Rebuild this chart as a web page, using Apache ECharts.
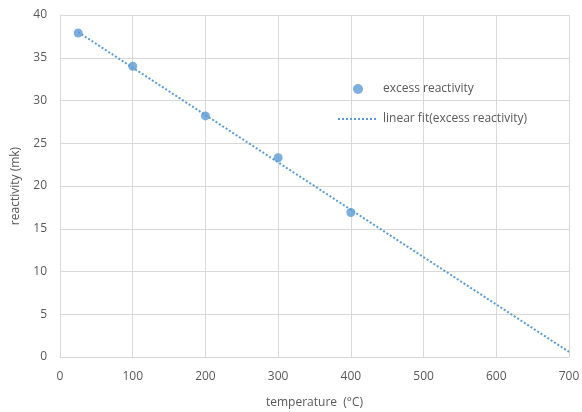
<!DOCTYPE html>
<html>
<head>
<meta charset="utf-8">
<script src="https://cdn.jsdelivr.net/npm/echarts@6/dist/echarts.min.js"></script>
<style>
  html, body { margin: 0; padding: 0; background: #fff; }
  #chart { width: 582px; height: 412px; }
</style>
</head>
<body>
<div id="chart"></div>
<script>
var temperature = [25, 100, 200, 300, 400];
var reactivity = [37.9, 34.0, 28.2, 23.3, 16.9];
// trend line end points
var fitX = [25, 700];
var fitY = [38.0, 0.6];

var textColor = '#595959';
var gridColor = '#d9d9d9';
var blue = '#5b9bd5';
var font = 'Open Sans';

var chart = echarts.init(document.getElementById('chart'));

var option = {
    animation: false,
    grid: {
        left: 60,
        right: 13,
        top: 15,
        bottom: 55,
        outerBoundsMode: 'none'
    },
    legend: {
        orient: 'vertical',
        left: 332,
        top: 78,
        itemWidth: 40,
        itemHeight: 10,
        itemGap: 18,
        textStyle: { color: textColor, fontFamily: font, fontSize: 12 },
        data: [
            { name: 'excess reactivity', icon: 'circle' },
            { name: 'linear fit(excess reactivity)', itemStyle: { opacity: 0 } }
        ]
    },
    xAxis: {
        type: 'value',
        min: 0,
        max: 700,
        interval: 100,
        name: 'temperature  (\u00B0C)',
        nameLocation: 'middle',
        nameGap: 40,
        nameTextStyle: { color: textColor, fontFamily: font, fontSize: 12 },
        axisLine: { show: true, lineStyle: { color: gridColor } },
        axisTick: { show: false },
        axisLabel: { color: textColor, fontFamily: font, fontSize: 12, margin: 14 },
        splitLine: { show: true, lineStyle: { color: gridColor } }
    },
    yAxis: {
        type: 'value',
        min: 0,
        max: 40,
        interval: 5,
        name: 'reactivity (mk)',
        nameLocation: 'middle',
        nameGap: 38,
        nameTextStyle: { color: textColor, fontFamily: font, fontSize: 12 },
        axisLine: { show: true, lineStyle: { color: gridColor } },
        axisTick: { show: false },
        axisLabel: { color: textColor, fontFamily: font, fontSize: 12, margin: 13 },
        splitLine: { show: true, lineStyle: { color: gridColor } }
    },
    series: [
        {
            name: 'excess reactivity',
            type: 'scatter',
            symbol: 'circle',
            symbolSize: 9,
            itemStyle: { color: blue },
            data: temperature.map(function (t, i) { return [t, reactivity[i]]; }),
            z: 3
        },
        {
            name: 'linear fit(excess reactivity)',
            type: 'line',
            symbol: 'none',
            lineStyle: { color: blue, width: 2, type: [2, 2] },
            itemStyle: { color: blue },
            data: fitX.map(function (t, i) { return [t, fitY[i]]; }),
            z: 2
        }
    ]
};

chart.setOption(option);
</script>
</body>
</html>
